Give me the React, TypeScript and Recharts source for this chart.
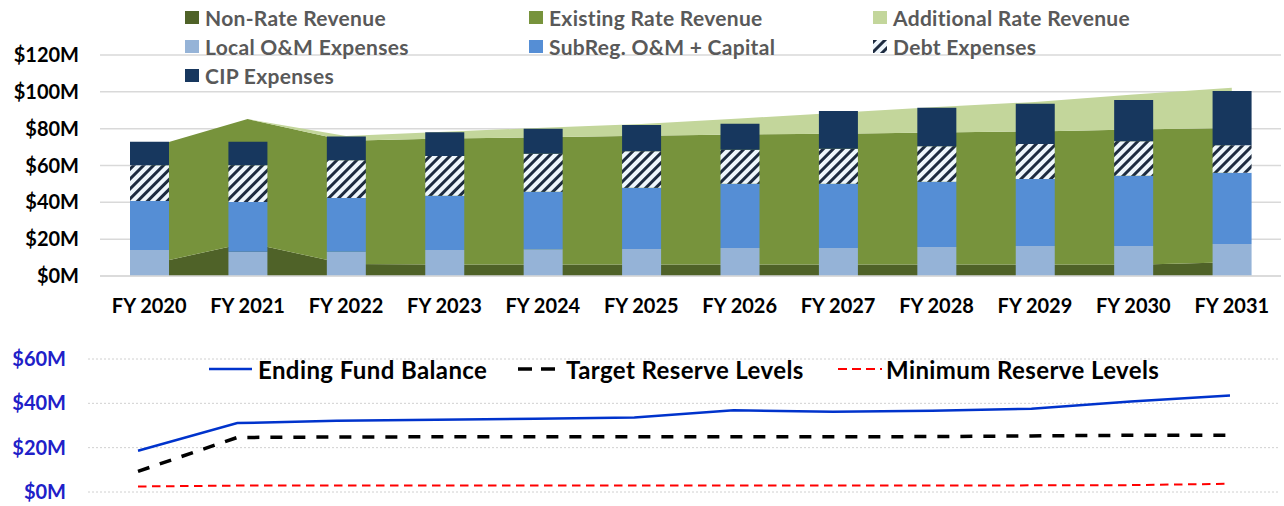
import React from "react";
import { ComposedChart, Area, Bar, XAxis, YAxis, CartesianGrid, LineChart, Line } from "recharts";

// fiscal years shared by both panels
const years = [
  "FY 2020", "FY 2021", "FY 2022", "FY 2023", "FY 2024", "FY 2025",
  "FY 2026", "FY 2027", "FY 2028", "FY 2029", "FY 2030", "FY 2031",
];

// revenue (stacked areas), $M
const nonRateRevenue = [6.3, 18.1, 6.5, 6.2, 6.2, 6.2, 6.2, 6.2, 6.2, 6.2, 6.1, 7.4];
const existingRateRevenue = [63.3, 67.1, 67.0, 68.4, 69.2, 70.0, 70.6, 71.1, 71.7, 72.3, 73.5, 73.0];
const additionalRateRevenue = [0, 0, 2.5, 3.7, 5.1, 6.4, 8.7, 11.4, 13.8, 16.0, 19.0, 21.8];

// expenses (stacked bars), $M
const localOM = [14.1, 13.2, 13.2, 14.1, 14.5, 14.7, 15.2, 15.2, 15.7, 16.3, 16.3, 17.4];
const subRegOMCapital = [26.6, 27.0, 29.1, 29.5, 31.3, 33.2, 34.9, 34.9, 35.5, 36.4, 38.2, 38.7];
const debtExpenses = [19.4, 19.9, 20.5, 21.5, 20.6, 19.8, 18.5, 19.0, 19.2, 19.0, 18.6, 14.9];
const cipExpenses = [12.8, 12.8, 13.0, 12.9, 13.6, 14.3, 14.1, 20.5, 21.0, 21.8, 22.4, 29.4];

// fund balance panel, $M
const endingFundBalance = [18.6, 31.1, 32.1, 32.6, 33.0, 33.6, 36.9, 36.2, 36.7, 37.6, 40.8, 43.5];
const targetReserve = [9.3, 24.6, 24.8, 24.9, 24.9, 24.9, 24.9, 24.9, 25.0, 25.3, 25.6, 25.6];
const minimumReserve = [2.5, 2.9, 2.9, 2.9, 2.9, 2.9, 2.9, 2.9, 2.9, 3.0, 3.1, 3.7];

const topTicks = [0, 20, 40, 60, 80, 100, 120];
const bottomTicks = [0, 20, 40, 60];

const FONT = "Lato, 'Open Sans', sans-serif";

const C = {
  nonRate: "#4F6228",
  existing: "#77933C",
  additional: "#C3D69B",
  local: "#95B3D7",
  subReg: "#558ED5",
  cip: "#17375E",
  hatchBg: "#EEF6FC",
  hatchFg: "#1D2B40",
  fund: "#0033CC",
};

const revenueData = years.map((year, i) => ({
  year,
  nonRate: nonRateRevenue[i],
  existing: existingRateRevenue[i],
  additional: additionalRateRevenue[i],
  local: localOM[i],
  subReg: subRegOMCapital[i],
  debt: debtExpenses[i],
  cip: cipExpenses[i],
}));

const balanceData = years.map((year, i) => ({
  year,
  fund: endingFundBalance[i],
  target: targetReserve[i],
  minimum: minimumReserve[i],
}));

const fmtM = (v: number) => `$${v}M`;

const HatchDefs = ({ id }: { id: string }) => (
  <defs>
    <pattern id={id} width="7" height="7" patternUnits="userSpaceOnUse" patternTransform="rotate(45)">
      <rect width="7" height="7" fill={C.hatchBg} />
      <rect x="0" y="0" width="3" height="7" fill={C.hatchFg} />
    </pattern>
  </defs>
);

const topLegend = [
  { label: "Non-Rate Revenue", color: C.nonRate },
  { label: "Existing Rate Revenue", color: C.existing },
  { label: "Additional Rate Revenue", color: C.additional },
  { label: "Local O&M Expenses", color: C.local },
  { label: "SubReg. O&M + Capital", color: C.subReg },
  { label: "Debt Expenses", color: "hatch" },
  { label: "CIP Expenses", color: C.cip },
];

const TopLegend = () => (
  <div style={{ position: "absolute", left: 0, top: 0, width: 1284, height: 90, pointerEvents: "none" }}>
    {topLegend.map((item, i) => {
      const col = i % 3;
      const row = Math.floor(i / 3);
      return (
        <div
          key={item.label}
          style={{
            position: "absolute",
            left: 185 + col * 344,
            top: 4 + row * 29,
            height: 26,
            display: "flex",
            alignItems: "center",
            fontFamily: FONT,
            fontWeight: 700,
            fontSize: 21,
            letterSpacing: 0.3,
            color: "#595959",
            whiteSpace: "nowrap",
          }}
        >
          <svg width={14} height={13} style={{ marginRight: 6 }}>
            {item.color === "hatch" ? (
              <>
                <HatchDefs id="legendHatch" />
                <rect width={14} height={13} fill="url(#legendHatch)" />
              </>
            ) : (
              <rect width={14} height={13} fill={item.color} />
            )}
          </svg>
          {item.label}
        </div>
      );
    })}
  </div>
);

const BottomLegend = () => {
  const text: React.CSSProperties = {
    fontFamily: FONT,
    fontWeight: 700,
    fontSize: 24,
    letterSpacing: 0.4,
    color: "#000",
    whiteSpace: "nowrap",
  };
  const item = (left: number): React.CSSProperties => ({
    position: "absolute",
    left,
    top: 354,
    height: 30,
    display: "flex",
    alignItems: "center",
  });
  return (
    <div style={{ position: "absolute", left: 0, top: 0, pointerEvents: "none" }}>
      <div style={item(209)}>
        <svg width={49} height={10}>
          <line x1={0} y1={5} x2={43} y2={5} stroke={C.fund} strokeWidth={2.5} />
        </svg>
        <span style={text}>Ending Fund Balance</span>
      </div>
      <div style={item(518)}>
        <svg width={48} height={10}>
          <line x1={0} y1={5} x2={37} y2={5} stroke="#000" strokeWidth={3.5} strokeDasharray="14 9" />
        </svg>
        <span style={text}>Target Reserve Levels</span>
      </div>
      <div style={item(838)}>
        <svg width={48} height={10}>
          <line x1={0} y1={5} x2={44} y2={5} stroke="#FF0000" strokeWidth={2} strokeDasharray="9 5" />
        </svg>
        <span style={text}>Minimum Reserve Levels</span>
      </div>
    </div>
  );
};

export default function App() {
  return (
    <div style={{ position: "absolute", left: 0, top: 0, width: 1284, height: 506, background: "#fff" }}>
      <div style={{ position: "absolute", left: 0, top: 0 }}>
        <ComposedChart
          width={1284}
          height={330}
          data={revenueData}
          margin={{ top: 55, right: 3, bottom: 0, left: 0 }}
        >
          <HatchDefs id="debtHatch" />
          <CartesianGrid vertical={false} stroke="#D9D9D9" strokeWidth={1.5} />
          <XAxis
            dataKey="year"
            height={54}
            tickLine={false}
            tickSize={0}
            tickMargin={23}
            axisLine={{ stroke: "#D9D9D9", strokeWidth: 1.5 }}
            tick={{ fontFamily: FONT, fontWeight: 700, fontSize: 20, fill: "#000" }}
            interval={0}
          />
          <YAxis
            width={100}
            domain={[0, 120]}
            ticks={topTicks}
            tickFormatter={fmtM}
            axisLine={false}
            tickLine={false}
            tickSize={0}
            tickMargin={21}
            tick={{ fontFamily: FONT, fontWeight: 700, fontSize: 20, fill: "#000" }}
          />
          <Area type="linear" dataKey="nonRate" stackId="rev" stroke="none" fill={C.nonRate} fillOpacity={1} isAnimationActive={false} />
          <Area type="linear" dataKey="existing" stackId="rev" stroke="none" fill={C.existing} fillOpacity={1} isAnimationActive={false} />
          <Area type="linear" dataKey="additional" stackId="rev" stroke="none" fill={C.additional} fillOpacity={1} isAnimationActive={false} />
          <Bar dataKey="local" stackId="exp" barSize={39} fill={C.local} isAnimationActive={false} />
          <Bar dataKey="subReg" stackId="exp" barSize={39} fill={C.subReg} isAnimationActive={false} />
          <Bar dataKey="debt" stackId="exp" barSize={39} fill="url(#debtHatch)" isAnimationActive={false} />
          <Bar dataKey="cip" stackId="exp" barSize={39} fill={C.cip} isAnimationActive={false} />
        </ComposedChart>
      </div>
      <TopLegend />

      <div style={{ position: "absolute", left: 0, top: 330 }}>
        <LineChart
          width={1284}
          height={176}
          data={balanceData}
          margin={{ top: 29, right: 4, bottom: 14, left: 0 }}
        >
          <CartesianGrid vertical={false} stroke="#D0D0D0" strokeDasharray="2 2" />
          <XAxis dataKey="year" hide padding={{ left: 50, right: 50 }} />
          <YAxis
            width={88}
            domain={[0, 60]}
            ticks={bottomTicks}
            tickFormatter={fmtM}
            axisLine={false}
            tickLine={false}
            tickSize={0}
            tickMargin={22}
            tick={{ fontFamily: FONT, fontWeight: 700, fontSize: 20, fill: "#2020C8" }}
          />
          <Line type="linear" dataKey="fund" stroke={C.fund} strokeWidth={2.5} dot={false} isAnimationActive={false} />
          <Line type="linear" dataKey="target" stroke="#000" strokeWidth={3.5} strokeDasharray="12 11" dot={false} isAnimationActive={false} />
          <Line type="linear" dataKey="minimum" stroke="#FF0000" strokeWidth={2} strokeDasharray="8.5 5.5" dot={false} isAnimationActive={false} />
        </LineChart>
      </div>
      <BottomLegend />
    </div>
  );
}
